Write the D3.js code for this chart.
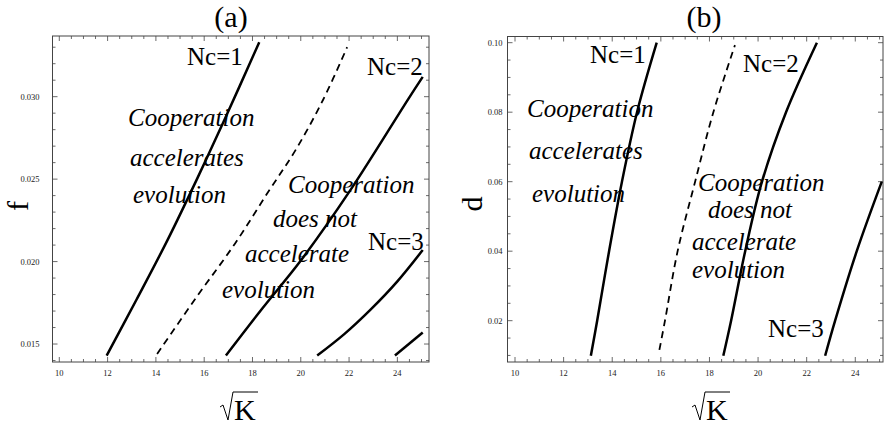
<!DOCTYPE html>
<meta charset="utf-8">
<style>
  body { margin: 0; background: #fff; }
  svg { display: block; font-family: "Liberation Serif", "Times New Roman", serif; }
</style>
<svg width="884" height="427"></svg>
<script src="https://d3js.org/d3.v7.min.js"></script>
<script>

    // values
    var kTicks = [10, 12, 14, 16, 18, 20, 22, 24];
    var fTicks = [0.015, 0.020, 0.025, 0.030];
    var dTicks = [0.02, 0.04, 0.06, 0.08, 0.10];

    // panel (a): f against sqrt(K)
    var fNc1 = [[11.96, 0.0143], [13.20, 0.0177], [14.48, 0.0213], [15.70, 0.0250], [16.84, 0.0286], [18.28, 0.0333]];
    var fBorder = [[14.05, 0.0144], [15.66, 0.0178], [17.28, 0.0211], [18.64, 0.0242], [19.80, 0.0268], [20.92, 0.0298], [21.92, 0.0330]];
    var fNc2 = [[16.90, 0.0143], [18.43, 0.0172], [19.97, 0.0200], [22.04, 0.0243], [24.47, 0.0299], [25.05, 0.0312]];
    var fNc3 = [[20.68, 0.0143], [21.80, 0.0156], [22.90, 0.0171], [24.00, 0.0188], [25.05, 0.0207]];
    var fNc4 = [[23.90, 0.0143], [25.05, 0.0157]];

    // panel (b): d against sqrt(K)
    var dNc1 = [[13.12, 0.0099], [13.38, 0.02], [13.87, 0.04], [14.40, 0.06], [15.02, 0.08], [15.83, 0.100]];
    var dBorder = [[15.94, 0.0116], [16.17, 0.02], [16.69, 0.04], [17.41, 0.06], [18.16, 0.08], [19.05, 0.0993]];
    var dNc2 = [[18.57, 0.0099], [18.89, 0.02], [19.47, 0.04], [20.16, 0.06], [21.15, 0.08], [22.42, 0.100]];
    var dNc3 = [[22.76, 0.0099], [23.17, 0.02], [24.06, 0.04], [25.09, 0.060]];

    var svg = d3.select("svg");

    var panels = [
        {
            id: "a", title: "(a)", ylab: "f",
            left: 52.5, top: 36, right: 429, bottom: 362,
            xdom: [9.718, 25.31], ydom: [0.01391, 0.03368],
            yTicks: fTicks, yMinor: 0.001, yFmt: d3.format(".3f"), labGap: 13,
            curves: [fNc1, fNc2, fNc3, fNc4], border: fBorder,
            labels: [
                {t: "Nc=1", x: 187, y: 65, it: false},
                {t: "Nc=2", x: 367, y: 75, it: false},
                {t: "Nc=3", x: 368, y: 250, it: false},
                {t: "Cooperation", x: 128, y: 126, it: true},
                {t: "accelerates", x: 130, y: 166, it: true},
                {t: "evolution", x: 133, y: 203, it: true},
                {t: "Cooperation", x: 288, y: 193, it: true},
                {t: "does not", x: 273, y: 227, it: true},
                {t: "accelerate", x: 245, y: 262, it: true},
                {t: "evolution", x: 222, y: 298, it: true}
            ],
            titleX: 231, ylabX: 28, ylabY: 206, rootX: 220
        },
        {
            id: "b", title: "(b)", ylab: "d",
            left: 507.5, top: 36.5, right: 883, bottom: 362,
            xdom: [9.691, 25.14], ydom: [0.00811, 0.10178],
            yTicks: dTicks, yMinor: 0.005, yFmt: d3.format(".2f"), labGap: 5,
            curves: [dNc1, dNc2, dNc3], border: dBorder,
            labels: [
                {t: "Nc=1", x: 590, y: 63, it: false},
                {t: "Nc=2", x: 743, y: 72, it: false},
                {t: "Nc=3", x: 768, y: 337, it: false},
                {t: "Cooperation", x: 527, y: 117, it: true},
                {t: "accelerates", x: 529, y: 159, it: true},
                {t: "evolution", x: 532, y: 202, it: true},
                {t: "Cooperation", x: 698, y: 191, it: true},
                {t: "does not", x: 708, y: 218, it: true},
                {t: "accelerate", x: 692, y: 250, it: true},
                {t: "evolution", x: 692, y: 278, it: true}
            ],
            titleX: 704, ylabX: 482, ylabY: 204, rootX: 692
        }
    ];

    panels.forEach(drawPanel);

    function drawPanel(p) {
        var x = d3.scaleLinear().domain(p.xdom).range([p.left, p.right]);
        var y = d3.scaleLinear().domain(p.ydom).range([p.bottom, p.top]);
        var g = svg.append("g");

        g.append("clipPath").attr("id", "clip-" + p.id)
            .append("rect")
            .attr("x", p.left).attr("y", p.top)
            .attr("width", p.right - p.left).attr("height", p.bottom - p.top);

        // ticks on all four sides, pointing inward
        var xMinor = d3.range(10, 25.01, 0.5);
        var yMinor = d3.range(Math.ceil(p.ydom[0] / p.yMinor) * p.yMinor, p.ydom[1], p.yMinor);
        var tk = g.append("g").attr("stroke", "#444").attr("stroke-width", 0.8);
        xMinor.forEach(function (v) {
            var major = Math.abs(v - Math.round(v / 2) * 2) < 1e-6;
            var len = major ? 5 : 3;
            tk.append("line").attr("x1", x(v)).attr("x2", x(v)).attr("y1", p.bottom).attr("y2", p.bottom - len);
            tk.append("line").attr("x1", x(v)).attr("x2", x(v)).attr("y1", p.top).attr("y2", p.top + len);
        });
        yMinor.forEach(function (v) {
            var major = p.yTicks.some(function (t) { return Math.abs(t - v) < p.yMinor / 10; });
            var len = major ? 5 : 3;
            tk.append("line").attr("y1", y(v)).attr("y2", y(v)).attr("x1", p.left).attr("x2", p.left + len);
            tk.append("line").attr("y1", y(v)).attr("y2", y(v)).attr("x1", p.right).attr("x2", p.right - len);
        });

        g.append("rect")
            .attr("x", p.left).attr("y", p.top)
            .attr("width", p.right - p.left).attr("height", p.bottom - p.top)
            .attr("fill", "none").attr("stroke", "#444").attr("stroke-width", 1);

        // tick labels
        g.append("g").selectAll("text").data(kTicks).join("text")
            .attr("x", function (d) { return x(d); })
            .attr("y", p.bottom + 14)
            .attr("text-anchor", "middle")
            .attr("font-size", 8.5).attr("fill", "#222")
            .text(function (d) { return d; });
        g.append("g").selectAll("text").data(p.yTicks).join("text")
            .attr("x", p.left - p.labGap)
            .attr("y", function (d) { return y(d) + 3; })
            .attr("text-anchor", "end")
            .attr("font-size", 8.5).attr("fill", "#222")
            .text(function (d) { return p.yFmt(d); });

        // curves
        var line = d3.line()
            .x(function (d) { return x(d[0]); })
            .y(function (d) { return y(d[1]); })
            .curve(d3.curveCatmullRom.alpha(0.5));
        var cg = g.append("g").attr("clip-path", "url(#clip-" + p.id + ")")
            .attr("fill", "none").attr("stroke", "#000");
        p.curves.forEach(function (c) {
            cg.append("path").attr("d", line(c)).attr("stroke-width", 2.5);
        });
        cg.append("path").attr("d", line(p.border))
            .attr("stroke-width", 1.8).attr("stroke-dasharray", "7,5");

        // region and contour labels
        g.append("g").selectAll("text").data(p.labels).join("text")
            .attr("x", function (d) { return d.x; })
            .attr("y", function (d) { return d.y; })
            .attr("font-size", 25)
            .attr("font-style", function (d) { return d.it ? "italic" : "normal"; })
            .text(function (d) { return d.t; });

        // title and axis labels
        g.append("text").attr("x", p.titleX).attr("y", 27)
            .attr("text-anchor", "middle").attr("font-size", 30)
            .text(p.title);
        g.append("text")
            .attr("transform", "translate(" + p.ylabX + "," + p.ylabY + ") rotate(-90)")
            .attr("text-anchor", "middle").attr("font-size", 30)
            .text(p.ylab);

        var r = p.rootX;
        g.append("path")
            .attr("d", "M" + r + "," + 407 + "L" + (r + 3) + "," + 405 + "L" + (r + 8) + "," + 420 +
                "L" + (r + 13) + "," + 392 + "L" + (r + 38) + "," + 392)
            .attr("fill", "none").attr("stroke", "#000").attr("stroke-width", 1);
        g.append("text").attr("x", r + 14).attr("y", 420)
            .attr("font-size", 30).text("K");
    }

</script>
